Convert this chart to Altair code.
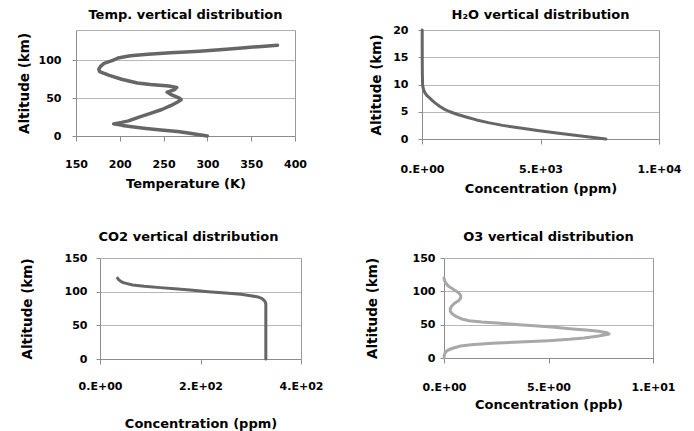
import altair as alt
import pandas as pd

# ---------------- data ----------------
temp_alt = [0, 2, 4, 6, 8, 10, 12, 14, 16, 18, 20, 25, 30, 35, 40, 45, 48, 50, 55, 58, 61, 64, 66,
            68, 70, 75, 80, 85, 88, 92, 96, 100, 103, 106, 108, 109, 110, 111, 112, 114, 116, 118, 120]
temp_k = [300, 289, 278, 266, 247, 230, 216, 203, 193, 202, 210, 222, 235, 248, 258, 266, 270, 268, 258, 254, 262, 265, 256,
          235, 220, 202, 188, 177, 176, 178, 182, 192, 198, 212, 232, 245, 258, 275, 291, 314, 336, 358, 380]

h2o_alt = [0, 0.5, 1, 1.5, 2, 2.5, 3, 3.5, 4, 4.5, 5, 5.5, 6, 6.5, 7, 7.5, 8, 8.5, 9, 9.5, 10, 12, 15, 20]
h2o_ppm = [7760, 6800, 5850, 4950, 4150, 3400, 2800, 2300, 1900, 1500, 1180, 930, 740, 590, 450, 330, 200, 120, 70, 40, 25, 15, 10, 8]

co2_alt = [0, 20, 40, 60, 80, 82, 86, 90, 92, 94, 96, 98, 100, 102, 104, 106, 108, 110, 113, 115, 118, 120]
co2_ppm = [330, 330, 330, 330, 330, 330, 328, 322, 315, 300, 280, 250, 215, 185, 155, 120, 88, 65, 48, 42, 37, 35]

o3_alt = [0, 5, 9, 12, 15, 18, 20, 22, 24, 26, 28, 30, 33, 36, 38, 40, 42, 44, 46, 48, 50, 52, 54, 56, 58,
          62, 66, 70, 74, 78, 82, 86, 90, 94, 98, 101, 104, 108, 112, 116, 120]
o3_ppb = [0.0, 0.02, 0.08, 0.2, 0.45, 0.8, 1.3, 2.3, 3.6, 5.0, 6.0, 6.7, 7.4, 7.9, 7.8, 7.4, 6.8, 6.0, 5.3, 4.5, 3.6, 2.7, 1.8, 1.2, 0.9,
          0.6, 0.4, 0.3, 0.3, 0.37, 0.5, 0.7, 0.8, 0.8, 0.7, 0.55, 0.4, 0.2, 0.1, 0.03, 0.0]

# axis ticks / labels
temp_xticks = [150, 200, 250, 300, 350, 400]
temp_yticks = [0, 50, 100]
h2o_xticks = [0, 5000, 10000]
h2o_xlabels = ["0.E+00", "5.E+03", "1.E+04"]
h2o_yticks = [0, 5, 10, 15, 20]
co2_xticks = [0, 200, 400]
co2_xlabels = ["0.E+00", "2.E+02", "4.E+02"]
o3_xticks = [0, 5, 10]
o3_xlabels = ["0.E+00", "5.E+00", "1.E+01"]
alt_yticks = [0, 50, 100, 150]

FONT = "DejaVu Sans"
AXIS_GREY = "#8c8c8c"


def label_expr(vals, labels):
    expr = "''"
    for v, l in reversed(list(zip(vals, labels))):
        expr = f"datum.value == {v} ? '{l}' : ({expr})"
    return expr


def panel(xs, ys, title, xtitle, xdomain, xticks, xlabels, ydomain, yticks, w, h,
          color, sw, t_off, x_lpad, x_ty, y_lpad, y_tx, inset=0):
    df = pd.DataFrame({"conc": xs, "alt": ys})
    xaxis = dict(values=xticks, title=xtitle, grid=False, domainColor=AXIS_GREY, tickColor=AXIS_GREY,
                 tickSize=5, labelPadding=x_lpad, labelFont=FONT, labelFontSize=11,
                 labelFontWeight="bold", labelColor="black", titleFont=FONT, titleFontSize=13,
                 titleFontWeight="bold", titleColor="black", titleY=x_ty, titleBaseline="middle",
                 labelFlush=False)
    if xlabels is not None:
        xaxis["labelExpr"] = label_expr(xticks, xlabels)
    yaxis = dict(values=yticks, title="Altitude (km)", grid=True, gridColor="#b8b8b8",
                 domainColor=AXIS_GREY, tickColor=AXIS_GREY, tickSize=4, labelPadding=y_lpad,
                 labelFont=FONT, labelFontSize=11, labelFontWeight="bold", labelColor="black",
                 titleFont=FONT, titleFontSize=13.5, titleFontWeight="bold", titleColor="black",
                 titleX=y_tx, titleBaseline="middle", labelFlush=False)
    if inset:
        yaxis["offset"] = -inset
    xscale = dict(domain=xdomain, nice=False, zero=False)
    if inset:
        xscale["range"] = [inset, w]
    yscale = alt.Scale(domain=ydomain, nice=False, zero=False)

    base = alt.Chart(df)
    line = base.mark_line(color=color, strokeWidth=sw, strokeCap="round",
                          strokeJoin="round").encode(
        x=alt.X("conc:Q", scale=alt.Scale(**xscale), axis=alt.Axis(**xaxis)),
        y=alt.Y("alt:Q", scale=yscale, axis=alt.Axis(**yaxis)),
        order="alt:Q",
    )
    # frame (top / right edges of the plot area) drawn as extra axes
    frame = base.mark_line(strokeOpacity=0).encode(
        x=alt.X("conc:Q", axis=alt.Axis(orient="top", labels=False, ticks=False, grid=False,
                                       title="", domainColor="#b0b0b0")),
        y=alt.Y("alt:Q", axis=alt.Axis(orient="right", labels=False, ticks=False, grid=False,
                                      title="", domainColor="#999999")),
        order="alt:Q",
    )
    return alt.layer(line, frame).resolve_axis(x="independent", y="independent").properties(
        width=w, height=h,
        title=alt.TitleParams(text=title, font=FONT, fontSize=13, fontWeight="bold",
                              color="black", offset=t_off, anchor="middle", frame="group"),
    )


p1 = panel(temp_k, temp_alt, "Temp. vertical distribution", "Temperature (K)", [150, 400],
           temp_xticks, None, [0, 140], temp_yticks, 219, 106, "#666666", 3.5,
           8, 17, 47, 11, -52)
p2 = panel(h2o_ppm, h2o_alt, "H\u2082O vertical distribution", "Concentration (ppm)", [0, 10000],
           h2o_xticks, h2o_xlabels, [0, 20], h2o_yticks, 237, 109, "#666666", 3,
           2.5, 19, 49, 10, -46)
p3 = panel(co2_ppm, co2_alt, "CO2 vertical distribution", "Concentration (ppm)", [0, 400],
           co2_xticks, co2_xlabels, [0, 150], alt_yticks, 225, 101, "#666666", 3,
           8.5, 16, 64, 9, -73, inset=24)
p4 = panel(o3_ppb, o3_alt, "O3 vertical distribution", "Concentration (ppb)", [0, 10],
           o3_xticks, o3_xlabels, [0, 150], alt_yticks, 209, 100, "#a8a8a8", 3,
           8.5, 18, 46, 5, -72)

row1 = alt.hconcat(p1, p2, spacing=61, bounds="full")
row2 = alt.hconcat(p3, p4, spacing=40, bounds="full")

chart = alt.vconcat(row1, row2, spacing=34, bounds="full").properties(
    padding={"left": 8, "top": 0, "right": 0, "bottom": 0},
    background="white",
).configure_view(stroke="transparent")

chart.save("out.html", embed_options={"renderer": "svg", "actions": False})
